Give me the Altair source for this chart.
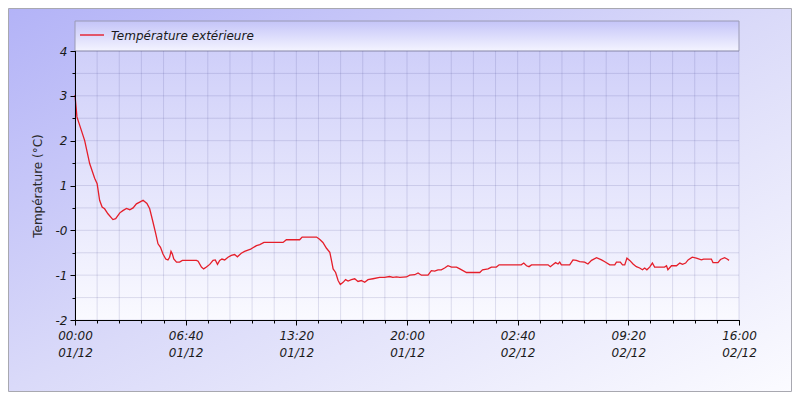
import altair as alt
import pandas as pd

# ---- data (minutes since 01/12 00:00, °C) ----
minutes = [0, 7, 23, 35, 53, 71, 80, 89, 98, 107, 119, 137, 147, 162, 173, 186, 198, 210,
           222, 234, 246, 260, 270, 282, 292, 300, 309, 318, 328, 336, 342, 347, 352, 357,
           367, 378, 388, 439, 445, 457, 465, 475, 487, 499, 507, 515, 523, 531, 541, 553,
           565, 577, 587, 601, 613, 625, 635, 643, 656, 668, 683, 752, 764, 812, 821, 873,
           884, 896, 909, 921, 927, 933, 942, 951, 959, 969, 978, 987, 999, 1011, 1023,
           1035, 1047, 1059, 1077, 1101, 1119, 1137, 1149, 1162, 1174, 1198, 1210, 1228,
           1240, 1252, 1276, 1288, 1300, 1312, 1324, 1336, 1348, 1361, 1379, 1391, 1415,
           1463, 1473, 1493, 1505, 1523, 1533, 1613, 1622, 1632, 1641, 1650, 1710, 1718,
           1728, 1737, 1746, 1752, 1758, 1788, 1800, 1812, 1824, 1842, 1854, 1867, 1885,
           1903, 1915, 1933, 1951, 1957, 1971, 1979, 1987, 1995, 2005, 2017, 2029, 2041,
           2051, 2059, 2067, 2077, 2087, 2095, 2131, 2138, 2143, 2156, 2174, 2186, 2196,
           2207, 2216, 2231, 2246, 2264, 2272, 2300, 2306, 2324, 2333, 2348, 2357, 2364]
temps = [3.02, 2.53, 2.23, 2.0, 1.49, 1.16, 1.04, 0.67, 0.52, 0.48, 0.37, 0.24, 0.26, 0.39,
         0.44, 0.49, 0.46, 0.5, 0.59, 0.63, 0.67, 0.6, 0.48, 0.18, -0.08, -0.3, -0.38, -0.53,
         -0.64, -0.66, -0.6, -0.47, -0.53, -0.64, -0.71, -0.71, -0.67, -0.67, -0.69, -0.82,
         -0.86, -0.82, -0.76, -0.67, -0.66, -0.76, -0.67, -0.64, -0.66, -0.6, -0.56, -0.54,
         -0.59, -0.51, -0.47, -0.44, -0.42, -0.39, -0.34, -0.32, -0.27, -0.27, -0.21, -0.21,
         -0.15, -0.15, -0.2, -0.27, -0.4, -0.49, -0.67, -0.86, -0.94, -1.12, -1.21, -1.16,
         -1.1, -1.13, -1.1, -1.08, -1.14, -1.12, -1.16, -1.1, -1.08, -1.05, -1.05, -1.03,
         -1.05, -1.04, -1.05, -1.04, -1.0, -0.99, -0.95, -1.0, -1.0, -0.9, -0.91, -0.88,
         -0.88, -0.84, -0.79, -0.82, -0.82, -0.86, -0.94, -0.94, -0.88, -0.86, -0.82, -0.82,
         -0.77, -0.77, -0.73, -0.79, -0.81, -0.77, -0.77, -0.81, -0.76, -0.72, -0.75, -0.71,
         -0.77, -0.77, -0.66, -0.67, -0.7, -0.71, -0.75, -0.67, -0.61, -0.66, -0.7, -0.77,
         -0.77, -0.71, -0.71, -0.77, -0.77, -0.62, -0.67, -0.75, -0.81, -0.84, -0.88, -0.84,
         -0.88, -0.82, -0.73, -0.82, -0.82, -0.79, -0.88, -0.79, -0.79, -0.73, -0.76, -0.73,
         -0.66, -0.6, -0.62, -0.66, -0.64, -0.64, -0.72, -0.72, -0.65, -0.61, -0.64, -0.67]

x_major = [0, 400, 800, 1200, 1600, 2000, 2400]
x_minor = list(range(0, 2401, 80))
y_major = [-2, -1, 0, 1, 2, 3, 4]
y_minor = [-2, -1.5, -1, -0.5, 0, 0.5, 1, 1.5, 2, 2.5, 3, 3.5, 4]
series_name = "Température extérieure"
y_title = "Température (°C)"

df = pd.DataFrame({"minutes": minutes, "temp": temps})
gx = pd.DataFrame({"gx": x_minor})
gy = pd.DataFrame({"gy": y_minor})

W, H = 664, 269
PL, PT = 67, 43
TOTW, TOTH = 784, 384
FONT = "DejaVu Sans"
RED = "#e51e2a"

xscale = alt.Scale(domain=[0, 2400], nice=False, zero=False)
yscale = alt.Scale(domain=[-2, 4], nice=False, zero=False)
one = alt.Data(values=[{}])

bg = alt.Chart(one).mark_rect(
    color=alt.LinearGradient(
        gradient="linear",
        stops=[alt.GradientStop(color="#b3b3f7", offset=0),
               alt.GradientStop(color="#dadaf9", offset=0.5),
               alt.GradientStop(color="#fbfbff", offset=1)],
        x1=0, y1=0, x2=1, y2=1),
    stroke="#a8a8b0", strokeWidth=1,
).encode(x=alt.value(-PL + 0.5), x2=alt.value(TOTW - PL - 0.5),
         y=alt.value(-PT + 0.5), y2=alt.value(TOTH - PT - 0.5))

plotbg = alt.Chart(one).mark_rect(
    color=alt.LinearGradient(
        gradient="linear",
        stops=[alt.GradientStop(color="#cfcff9", offset=0),
               alt.GradientStop(color="#fafaff", offset=1)],
        x1=0, y1=0, x2=0, y2=1),
).encode(x=alt.value(0), x2=alt.value(W), y=alt.value(0), y2=alt.value(H))

legbox = alt.Chart(one).mark_rect(
    color=alt.LinearGradient(
        gradient="linear",
        stops=[alt.GradientStop(color="#c4c4f8", offset=0),
               alt.GradientStop(color="#f4f4ff", offset=1)],
        x1=0, y1=0, x2=0, y2=1),
    stroke="#9a9ab4", strokeWidth=1,
).encode(x=alt.value(0), x2=alt.value(W), y=alt.value(-30), y2=alt.value(0))

legline = alt.Chart(one).mark_rule(color=RED, strokeWidth=1.4).encode(
    x=alt.value(5), x2=alt.value(29), y=alt.value(-16))

legtext = alt.Chart(one).mark_text(
    align="left", baseline="alphabetic", font=FONT, fontSize=12,
    fontStyle="italic", color="#1a1a1a",
).encode(x=alt.value(36), y=alt.value(-11), text=alt.value(series_name))

vgrid = alt.Chart(gx).mark_rule(color="#303080", opacity=0.14, strokeWidth=1).encode(
    x=alt.X("gx:Q", scale=xscale,
            axis=alt.Axis(values=x_minor, orient="bottom", labels=False, title=None,
                          grid=False, tickSize=3, tickColor="#000", domainColor="#000",
                          zindex=1))
)
hgrid = alt.Chart(gy).mark_rule(color="#303080", opacity=0.14, strokeWidth=1).encode(
    y=alt.Y("gy:Q", scale=yscale,
            axis=alt.Axis(values=y_minor, orient="left", labels=False, title=None,
                          grid=False, tickSize=3, tickColor="#000", domainColor="#000",
                          zindex=1))
)

xlab = ("[pad(toString(floor(datum.value/60)%24),2,'0','left') + ':' + "
        "pad(toString(datum.value%60),2,'0','left'), "
        "'0' + toString(1+floor(datum.value/1440)) + '/12']")

line = alt.Chart(df).mark_line(color=RED, strokeWidth=1.3).encode(
    x=alt.X("minutes:Q", scale=xscale,
            axis=alt.Axis(values=x_major, orient="bottom", title=None, grid=False,
                          tickSize=5, tickColor="#000", domainColor="#000",
                          labelExpr=xlab, labelFont=FONT, labelFontSize=12,
                          labelFontStyle="italic", labelColor="#1a1a1a",
                          labelPadding=5, labelLineHeight=17, labelOverlap=False,
                          labelFlush=False, zindex=1)),
    y=alt.Y("temp:Q", scale=yscale,
            axis=alt.Axis(values=y_major, orient="left", title=y_title, grid=False,
                          tickSize=5, tickColor="#000", domainColor="#000",
                          labelExpr="datum.value == 0 ? '-0' : toString(datum.value)",
                          labelFont=FONT, labelFontSize=12, labelFontStyle="italic",
                          labelColor="#1a1a1a", labelPadding=3,
                          titleFont=FONT, titleFontSize=12, titleFontWeight="normal",
                          titleColor="#2a2a2a", titlePadding=11, zindex=1)),
)

chart = alt.layer(bg, plotbg, legbox, legline, legtext, vgrid, hgrid, line).resolve_axis(
    x="independent", y="independent"
).properties(
    width=W, height=H,
    autosize=alt.AutoSizeParams(type="none"),
    padding={"left": PL, "top": PT, "right": TOTW - PL - W, "bottom": TOTH - PT - H},
    background="white",
).configure_view(stroke="#9a9ab4", strokeWidth=1)

chart.save("out.html", embed_options={"renderer": "svg", "actions": False})
